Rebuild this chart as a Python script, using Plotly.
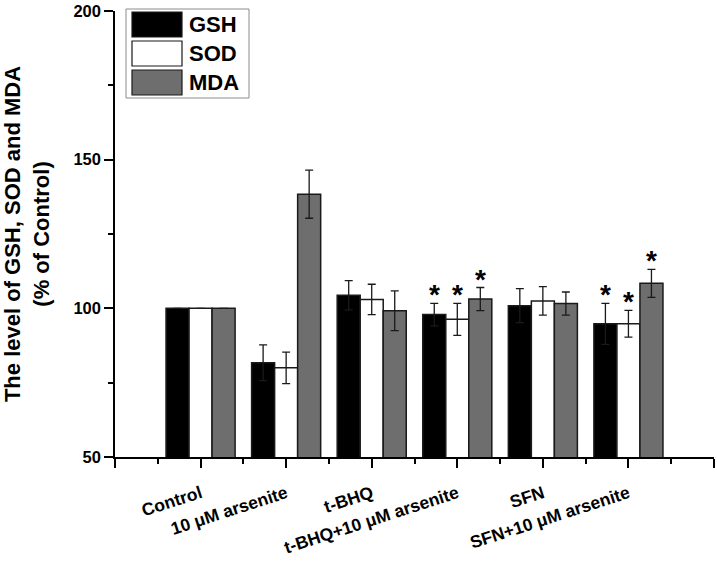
import plotly.graph_objects as go

# ---------------- data ----------------
categories = ["Control", "10 μM arsenite", "t-BHQ", "t-BHQ+10 μM arsenite",
              "SFN", "SFN+10 μM arsenite"]
series_names = ["GSH", "SOD", "MDA"]
gsh = [100.0, 81.7, 104.4, 97.9, 100.9, 94.8]
gsh_err = [0.0, 6.0, 4.9, 3.8, 5.7, 6.9]
sod = [100.0, 80.0, 103.0, 96.3, 102.5, 94.8]
sod_err = [0.0, 5.3, 5.1, 5.4, 4.8, 4.5]
mda = [100.0, 138.4, 99.2, 103.1, 101.6, 108.4]
mda_err = [0.0, 8.1, 6.7, 3.9, 3.9, 4.7]
# significance stars (True = "*")
gsh_sig = [False, False, False, True, False, True]
sod_sig = [False, False, False, True, False, True]
mda_sig = [False, False, False, True, False, True]
y_ticks = [50, 100, 150, 200]

# ---------------- style ----------------
FONT = "Liberation Sans, Arial, sans-serif"
colors = ["#000000", "#ffffff", "#6e6e6e"]
W, H = 717, 561
L, R, T, B = 115, 3, 11, 104

xpos = list(range(1, len(categories) + 1))
values = [gsh, sod, mda]
errors = [gsh_err, sod_err, mda_err]
sigs = [gsh_sig, sod_sig, mda_sig]

def bold(s):
    return "<b>%s</b>" % s

fig = go.Figure()
for name, v, e, c in zip(series_names, values, errors, colors):
    fig.add_trace(go.Bar(
        x=xpos, y=v, name=name, showlegend=False, hoverinfo="skip",
        marker=dict(color=c, line=dict(color="#1a1a1a", width=1.5)),
        error_y=dict(type="data", array=e, visible=True, color="#1a1a1a",
                     thickness=1.3, width=4),
    ))

fig.update_layout(
    width=W, height=H, barmode="group", bargap=0.193, bargroupgap=0,
    plot_bgcolor="white", paper_bgcolor="white",
    margin=dict(l=L, r=R, t=T, b=B, pad=0, autoexpand=False),
    font=dict(family=FONT, size=16, color="black"),
)

fig.update_xaxes(
    range=[0, 7], showline=True, linecolor="black", linewidth=1.5,
    automargin=False,
    tickmode="array", tickvals=[0] + xpos + [7],
    ticktext=[""] + [bold(c) for c in categories] + [""],
    ticks="outside", ticklen=9, tickwidth=1.5, tickcolor="black",
    tickangle=-18, tickfont=dict(family=FONT, size=17.5, color="black"),
    ticklabelstandoff=9,
    minor=dict(tickmode="array", tickvals=[i + 0.5 for i in range(7)],
               ticks="outside", ticklen=5, tickwidth=1.5, tickcolor="black"),
    showgrid=False, zeroline=False,
)
fig.update_yaxes(
    range=[50, 200], showline=True, linecolor="black", linewidth=1.5,
    automargin=False,
    tickmode="array", tickvals=y_ticks, ticktext=[bold(t) for t in y_ticks],
    ticks="outside", ticklen=9, tickwidth=1.5, tickcolor="black",
    tickfont=dict(family=FONT, size=16.5, color="black"),
    minor=dict(tickmode="array", tickvals=[75, 125, 175],
               ticks="outside", ticklen=5, tickwidth=1.5, tickcolor="black"),
    showgrid=False, zeroline=False,
    title=dict(text=bold("The level of GSH, SOD and MDA") + "<br>" + bold("(% of Control)"),
               font=dict(family=FONT, size=22, color="black"),
               standoff=48),
)

# significance stars placed on top of the error bars (data coords)
n = len(series_names)
group_w = 1 - 0.193
bar_w = group_w / n
for si in range(n):
    for ci, x in enumerate(xpos):
        if sigs[si][ci]:
            xc = x - group_w / 2 + bar_w * (si + 0.5)
            fig.add_annotation(
                x=xc, y=values[si][ci] + errors[si][ci], xref="x", yref="y",
                text=bold("*"), showarrow=False, yanchor="bottom", yshift=-9,
                font=dict(family=FONT, size=28, color="black"),
            )

# custom legend (big swatches), positioned in pixel space -> paper
pw, ph = W - L - R, H - T - B
def px(xp):
    return (xp - L) / pw
def py(yp):
    return (H - B - yp) / ph

fig.add_shape(type="rect", xref="paper", yref="paper",
              x0=px(126), x1=px(249), y0=py(98), y1=py(9),
              line=dict(color="#8c8c8c", width=1), fillcolor="white", layer="above")
for i, (name, c) in enumerate(zip(series_names, colors)):
    top = 12 + i * 29
    fig.add_shape(type="rect", xref="paper", yref="paper",
                  x0=px(132), x1=px(182), y0=py(top + 25), y1=py(top),
                  line=dict(color="#1a1a1a", width=1.2), fillcolor=c, layer="above")
    fig.add_annotation(xref="paper", yref="paper", x=px(187), y=py(top + 12.5),
                       text=bold(name), showarrow=False, xanchor="left", yanchor="middle",
                       font=dict(family=FONT, size=22, color="black"))

fig.write_html("out.html", config={"displayModeBar": False},
               post_script="document.body.style.margin='0';document.body.style.overflow='hidden';")
